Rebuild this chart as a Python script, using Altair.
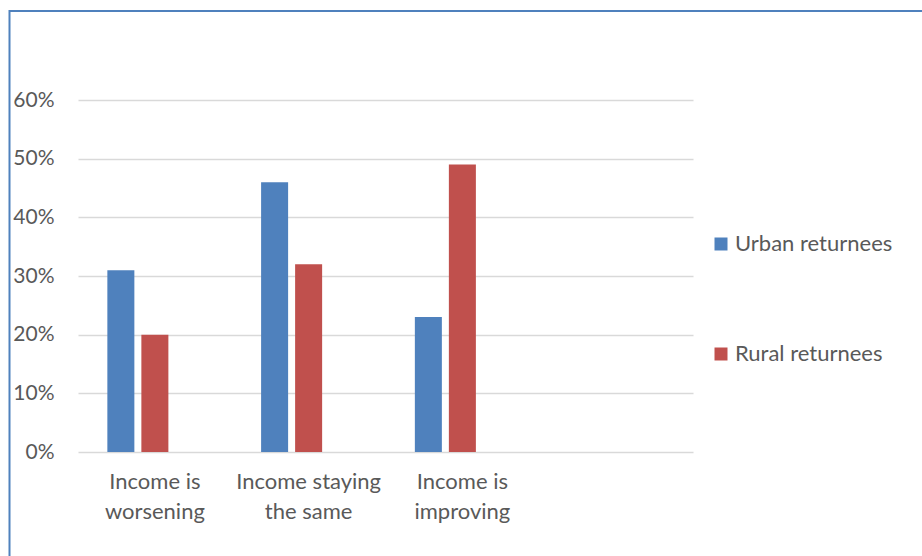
import altair as alt
import pandas as pd

# Income outlook of returnees, by place of return
categories = ["Income is worsening", "Income staying the same", "Income is improving"]
category_lines = [["Income is", "worsening"], ["Income staying", "the same"], ["Income is", "improving"]]
series = ["Urban returnees", "Rural returnees"]
urban = [0.31, 0.46, 0.23]
rural = [0.20, 0.32, 0.49]
colors = ["#4f81bd", "#c0504d"]
y_ticks = [0, 0.1, 0.2, 0.3, 0.4, 0.5, 0.6]

rows = []
for cat, u, r in zip(categories, urban, rural):
    rows.append({"category": cat, "series": series[0], "share": u})
    rows.append({"category": cat, "series": series[1], "share": r})
df = pd.DataFrame(rows)

# an empty trailing category and an empty third series slot keep Excel-like spacing
x_domain = categories + [""]
offset_domain = series + ["(none)"]

label_expr = " : ".join(
    f"datum.value == '{c}' ? {lines!r}" for c, lines in zip(categories, category_lines)
) + " : ''"

FONT = "Lato"
TEXT = "#595959"
FS = 22

W, H = 615, 352
LEFT, TOP = 78, 100

bars = alt.Chart(df).mark_bar().encode(
    x=alt.X(
        "category:N",
        sort=x_domain,
        scale=alt.Scale(domain=x_domain, paddingInner=0, paddingOuter=0),
        axis=alt.Axis(
            title=None, labelAngle=0, domain=False, ticks=False, grid=False,
            labelExpr=label_expr, labelFont=FONT, labelFontSize=FS,
            labelColor=TEXT, labelPadding=19, labelLineHeight=30,
            labelBaseline="top",
        ),
    ),
    xOffset=alt.XOffset(
        "series:N",
        scale=alt.Scale(domain=offset_domain, paddingInner=0.206, paddingOuter=0.863),
    ),
    y=alt.Y(
        "share:Q",
        scale=alt.Scale(domain=[0, 0.6], nice=False),
        axis=alt.Axis(
            title=None, values=y_ticks, format=".0%", domain=False, ticks=False,
            labelFont=FONT, labelFontSize=21, labelColor=TEXT, labelPadding=24,
            gridColor="#d9d9d9", gridWidth=1.5,
        ),
    ),
    color=alt.Color(
        "series:N",
        scale=alt.Scale(domain=series, range=colors),
        legend=alt.Legend(
            title=None, orient="none", legendX=710 - LEFT, legendY=244 - TOP - 11,
            symbolType="square", symbolSize=169, symbolStrokeWidth=0,
            labelFont=FONT, labelFontSize=FS, labelColor=TEXT, labelOffset=3,
            rowPadding=88, direction="vertical",
        ),
    ),
)

# chart frame: top and left edges
frame = alt.Chart(pd.DataFrame({"k": [0]})).mark_rect(
    fill=None, stroke="#4f81bd", strokeWidth=2, clip=False
).encode(
    x=alt.value(9.5 - LEFT), x2=alt.value(940 - LEFT),
    y=alt.value(11 - TOP), y2=alt.value(580 - TOP),
)

chart = alt.layer(bars, frame).properties(
    width=W, height=H,
    background="white",
    autosize=alt.AutoSizeParams(type="none"),
    padding={"left": LEFT, "top": TOP, "right": 922 - LEFT - W, "bottom": 556 - TOP - H},
).configure_view(strokeWidth=0, stroke="transparent")

chart.save("out.html", embed_options={"renderer": "svg", "actions": False})
